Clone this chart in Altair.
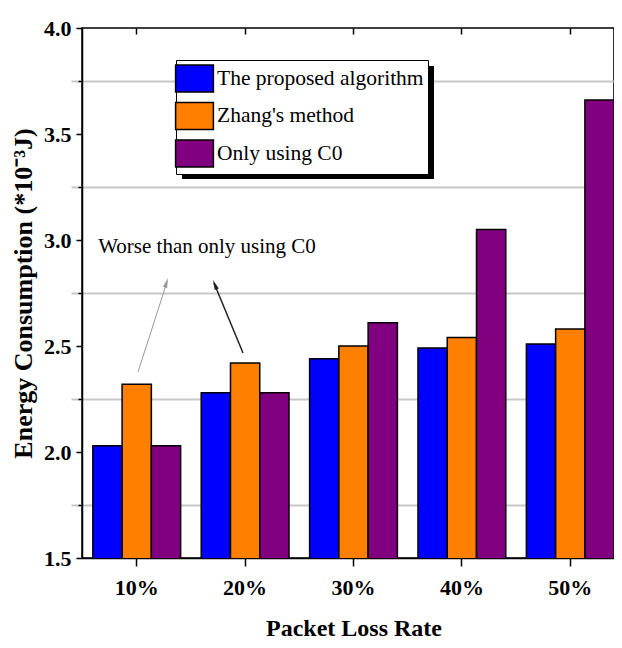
import altair as alt
import pandas as pd

categories = ["10%", "20%", "30%", "40%", "50%"]
series = ["The proposed algorithm", "Zhang's method", "Only using C0"]
proposed = [2.03, 2.28, 2.44, 2.49, 2.51]
zhang = [2.32, 2.42, 2.50, 2.54, 2.58]
only_c0 = [2.03, 2.28, 2.61, 3.05, 3.66]
colors = ["#0000FF", "#FF8000", "#800080"]
y_ticks = [1.5, 1.75, 2.0, 2.25, 2.5, 2.75, 3.0, 3.25, 3.5, 3.75, 4.0]
annotation = "Worse than only using C0"

rows = []
for s, vals in zip(series, [proposed, zhang, only_c0]):
    for c, v in zip(categories, vals):
        rows.append({"rate": c, "method": s, "energy": v})
df = pd.DataFrame(rows)

FONT = "Liberation Serif"
W, H = 532, 530
major = "datum.value % 0.5 == 0"

x_scale = alt.Scale(domain=categories, paddingInner=0.19, paddingOuter=0.1, range=[0, 543])
y_scale = alt.Scale(domain=[1.5, 4.0], zero=False, nice=False)

bars = alt.Chart(df).mark_bar(stroke="black", strokeWidth=1.5, clip=True).encode(
    x=alt.X("rate:N", scale=x_scale, sort=categories,
            axis=alt.Axis(title="Packet Loss Rate", orient="bottom", labelAngle=0,
                          labelFont=FONT, labelFontSize=22, labelFontWeight="bold",
                          labelColor="black", labelPadding=11,
                          titleFont=FONT, titleFontSize=24, titleFontWeight="bold",
                          titleColor="black", titlePadding=18,
                          tickSize=8, tickWidth=1.5, tickColor="black",
                          domainColor="black", domainWidth=1.5, grid=False)),
    xOffset=alt.XOffset("method:N", sort=series),
    y=alt.Y("energy:Q", scale=y_scale,
            axis=alt.Axis(title="Energy Consumption (*10⁻³J)", orient="left",
                          values=y_ticks,
                          labelExpr=f"{major} ? format(datum.value, '.1f') : ''",
                          labelFont=FONT, labelFontSize=22, labelFontWeight="bold",
                          labelColor="black", labelPadding=5,
                          titleFont=FONT, titleFontSize=26, titleFontWeight="bold",
                          titleColor="black", titlePadding=7,
                          tickSize={"condition": {"test": major, "value": 6}, "value": 4},
                          tickWidth=1.5, tickColor="black",
                          domainColor="black", domainWidth=1.5, grid=False)),
    color=alt.Color("method:N", sort=series,
                    scale=alt.Scale(domain=series, range=colors),
                    legend=alt.Legend(title=None, orient="none", legendX=94, legendY=32,
                                      padding=4, fillColor="white", strokeColor="black",
                                      labelFont=FONT, labelFontSize=21.5, labelColor="black",
                                      labelLimit=0, labelOffset=8, rowPadding=4.5,
                                      symbolType="M-1.4,-1H1.4V1H-1.4Z", symbolSize=729,
                                      symbolStrokeColor="black", symbolStrokeWidth=1.5,
                                      symbolOpacity=1)),
)

frame = alt.Chart(df).mark_bar(opacity=0, clip=True).encode(
    x=alt.X("rate:N", scale=x_scale, sort=categories,
            axis=alt.Axis(title=None, orient="top", labels=False, domain=False,
                          offset=-6, tickSize=6, tickWidth=1.5, tickColor="black",
                          grid=False)),
    y=alt.Y("energy:Q", scale=y_scale,
            axis=alt.Axis(title=None, orient="right", labels=False, values=y_ticks,
                          domainColor="black", domainWidth=1.5,
                          tickSize={"condition": {"test": major, "value": 6}, "value": 4},
                          tickWidth=1.5, tickColor="black",
                          grid=True, gridColor="#c8c8c8", gridWidth=2,
                          gridOpacity={"condition": {"test": major, "value": 0}, "value": 1})),
)

shadow = alt.Chart(pd.DataFrame({"k": [0]})).mark_rect(color="black").encode(
    x=alt.value(100), x2=alt.value(352), y=alt.value(38), y2=alt.value(151)
)

note = alt.Chart(pd.DataFrame({"t": [annotation]})).mark_text(
    font=FONT, fontSize=21, color="black"
).encode(text="t:N", x=alt.value(125), y=alt.value(219))

arrow1 = alt.Chart(pd.DataFrame({"k": [0]})).mark_rule(color="#999999", strokeWidth=1).encode(
    x=alt.value(56), y=alt.value(344), x2=alt.value(85), y2=alt.value(254))
head1 = alt.Chart(pd.DataFrame({"k": [0]})).mark_point(
    shape="M0,-1L0.45,1L-0.45,1Z", filled=True, color="#999999", size=100, angle=18, opacity=1
).encode(x=alt.value(84.5), y=alt.value(254.8))

arrow2 = alt.Chart(pd.DataFrame({"k": [0]})).mark_rule(color="#222222", strokeWidth=1.5).encode(
    x=alt.value(161), y=alt.value(325), x2=alt.value(132), y2=alt.value(255))
head2 = alt.Chart(pd.DataFrame({"k": [0]})).mark_point(
    shape="M0,-1L0.45,1L-0.45,1Z", filled=True, color="#222222", size=100, angle=338, opacity=1
).encode(x=alt.value(132.9), y=alt.value(256.6))

chart = alt.layer(frame, bars, shadow, note, arrow1, head1, arrow2, head2).resolve_axis(
    x="independent", y="independent"
).properties(
    width=W, height=H,
    autosize=alt.AutoSizeParams(type="none"),
    padding={"left": 74, "top": 20, "right": 0, "bottom": 82},
).configure_view(stroke="black", strokeWidth=1.5)

chart.save("out.html", embed_options={"renderer": "svg", "actions": False})
